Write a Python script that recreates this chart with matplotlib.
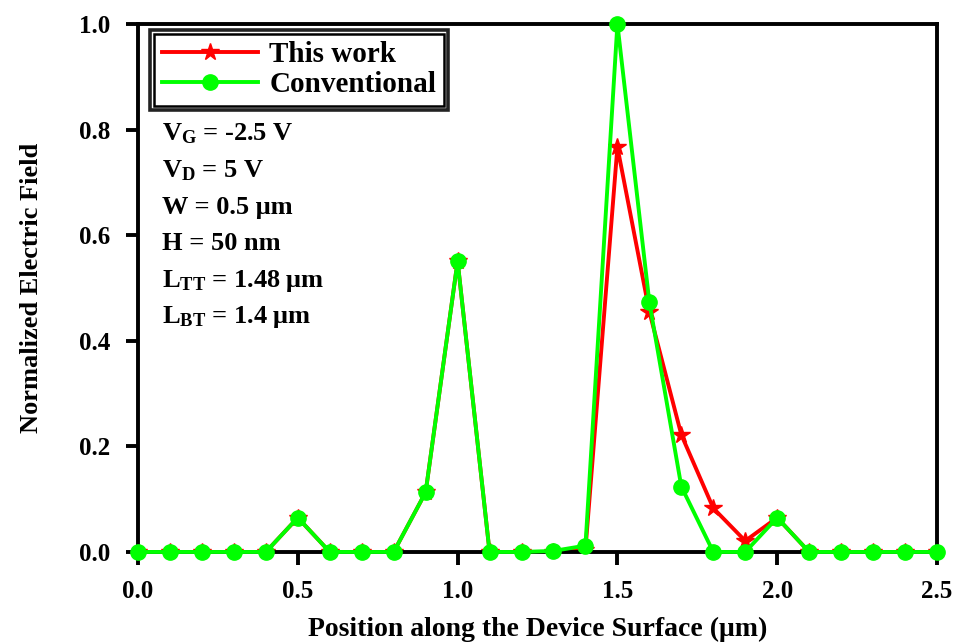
import matplotlib
matplotlib.use("Agg")
import matplotlib.pyplot as plt
from matplotlib.patches import Rectangle
import numpy as np

plt.rcParams['font.family'] = ['Liberation Serif', 'DejaVu Serif']
plt.rcParams['font.weight'] = 'bold'
plt.rcParams['mathtext.fontset'] = 'custom'
plt.rcParams['mathtext.rm'] = 'Liberation Serif:bold'
plt.rcParams['mathtext.it'] = 'Liberation Serif:bold'
plt.rcParams['mathtext.bf'] = 'Liberation Serif:bold'

position = [0.0, 0.1, 0.2, 0.3, 0.4, 0.5, 0.6, 0.7, 0.8, 0.9, 1.0, 1.1, 1.2,
            1.3, 1.4, 1.5, 1.6, 1.7, 1.8, 1.9, 2.0, 2.1, 2.2, 2.3, 2.4, 2.5]
this_work = [0, 0, 0, 0, 0, 0.065, 0, 0, 0, 0.113, 0.551, 0, 0,
             0, 0.004, 0.767, 0.455, 0.222, 0.083, 0.021, 0.065, 0, 0, 0, 0, 0]
conventional = [0, 0, 0, 0, 0, 0.065, 0, 0, 0, 0.113, 0.551, 0, 0,
                0.002, 0.012, 1.0, 0.473, 0.124, 0, 0, 0.065, 0, 0, 0, 0, 0]

params = ["V$_\\mathregular{G}$ = -2.5 V", "V$_\\mathregular{D}$ = 5 V", "W = 0.5 \u03bcm",
          "H = 50 nm", "L$_\\mathregular{TT}$ = 1.48 \u03bcm", "L$_\\mathregular{BT}$ = 1.4 \u03bcm"]

fig = plt.figure(figsize=(9.63, 6.44), dpi=100)
ax = fig.add_axes([0.1433, 0.1429, 0.973 - 0.1433, 0.9627 - 0.1429])

ax.plot(position, this_work, color='#ff0000', lw=2.8, marker='*', ms=13,
        label='This work', zorder=2)
ax.plot(position, conventional, color='#00ff00', lw=2.8, marker='o', ms=11,
        label='Conventional', zorder=3, clip_on=False)

ax.set_xlim(0, 2.5)
ax.set_ylim(0, 1.0)
ax.set_xticks([0, 0.5, 1.0, 1.5, 2.0, 2.5])
ax.set_xticklabels(['0.0', '0.5', '1.0', '1.5', '2.0', '2.5'])
ax.set_yticks([0, 0.2, 0.4, 0.6, 0.8, 1.0])
ax.set_yticklabels(['0.0', '0.2', '0.4', '0.6', '0.8', '1.0'])
ax.tick_params(axis='both', direction='out', length=9, width=2.8, labelsize=18,
               top=False, right=False)
ax.tick_params(axis='x', pad=11)
ax.tick_params(axis='y', pad=11)
for s in ax.spines.values():
    s.set_linewidth(2.8)

ax.set_xlabel('Position along the Device Surface (\u03bcm)', fontsize=20, fontweight='bold', labelpad=10)
ax.set_ylabel('Normalized Electric Field', fontsize=19, fontweight='bold', labelpad=26)

leg = ax.legend(loc='upper left', bbox_to_anchor=(0.013, 0.992), fontsize=21,
                fancybox=False, edgecolor='black', framealpha=1, handlelength=3.3,
                borderpad=0.25, labelspacing=0.1, handletextpad=0.4,
                borderaxespad=0.2)
leg.get_frame().set_linewidth(1.8)
leg.set_zorder(5)

y0 = 0.792
dy = 0.0695
for i, t in enumerate(params):
    ax.text(0.03, y0 - i * dy, t, transform=ax.transAxes, fontsize=19,
            fontweight='bold', va='center', ha='left')

# outer border of the legend (double frame)
fig.canvas.draw()
bb = leg.get_frame().get_window_extent(fig.canvas.get_renderer())
pad = 4
outer = Rectangle((bb.x0 - pad, bb.y0 - pad), bb.width + 2 * pad, bb.height + 2 * pad,
                  transform=None, fill=False, edgecolor='#222222', lw=2.6, zorder=6)
fig.add_artist(outer)

fig.savefig('out.png', dpi=100)
